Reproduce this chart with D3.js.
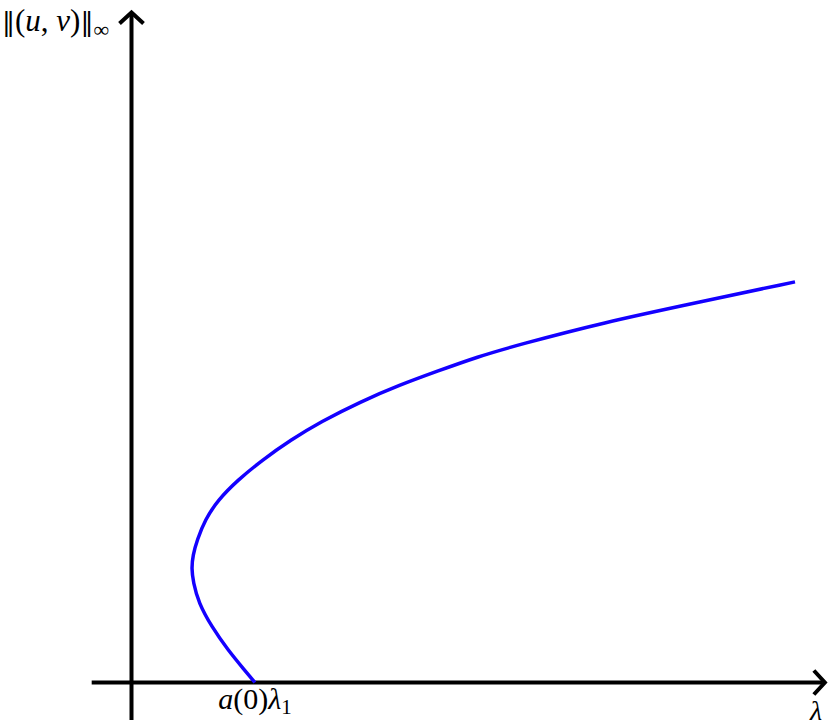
<!DOCTYPE html>
<html>
<head>
<meta charset="utf-8">
<script src="https://cdn.jsdelivr.net/npm/d3@7"></script>
<style>
    body { margin: 0; background: #fff; }
    text { font-family: "Liberation Serif", "DejaVu Serif", serif; }
</style>
</head>
<body>
<svg id="chart" width="833" height="726"></svg>
<script>
// bifurcation branch, in axis units (norm increases along the branch)
const normValues   = [0.00, 0.19, 0.49, 0.83, 1.19, 1.50, 1.70, 1.90, 2.13, 2.43, 2.72, 3.02, 3.32, 3.62, 3.89, 4.19, 4.44, 4.65, 4.86, 5.04, 5.37, 5.68, 5.98];
const lambdaValues = [1.86, 1.70, 1.45, 1.21, 1.01, 0.93, 0.905, 0.925, 0.99, 1.11, 1.30, 1.60, 1.97, 2.40, 2.85, 3.45, 4.04, 4.62, 5.21, 5.83, 7.10, 8.57, 10.0];
const xAxisExtent = [-0.6, 10.45];
const yAxisExtent = [-0.56, 10.0];
const bifurcationPoint = 1.86;

const svg = d3.select("#chart");

const x = d3.scaleLinear().domain([0, 10]).range([131.5, 795]);
const y = d3.scaleLinear().domain([0, 10]).range([682.5, 12.5]);

const axisColor = "#000";

// x axis with open arrow head
svg.append("line")
    .attr("x1", x(xAxisExtent[0])).attr("y1", y(0))
    .attr("x2", x(xAxisExtent[1]) - 2).attr("y2", y(0))
    .attr("stroke", axisColor).attr("stroke-width", 4);
svg.append("path")
    .attr("d", "M" + (x(xAxisExtent[1]) - 11) + "," + (y(0) - 12) +
        "L" + x(xAxisExtent[1]) + "," + y(0) +
        "L" + (x(xAxisExtent[1]) - 11) + "," + (y(0) + 12))
    .attr("fill", "none").attr("stroke", axisColor).attr("stroke-width", 4)
    .attr("stroke-linejoin", "miter");

// y axis with open arrow head
svg.append("line")
    .attr("x1", x(0)).attr("y1", y(yAxisExtent[0]))
    .attr("x2", x(0)).attr("y2", y(yAxisExtent[1]) + 2)
    .attr("stroke", axisColor).attr("stroke-width", 4);
svg.append("path")
    .attr("d", "M" + (x(0) - 12) + "," + (y(yAxisExtent[1]) + 11) +
        "L" + x(0) + "," + y(yAxisExtent[1]) +
        "L" + (x(0) + 12) + "," + (y(yAxisExtent[1]) + 11))
    .attr("fill", "none").attr("stroke", axisColor).attr("stroke-width", 4)
    .attr("stroke-linejoin", "miter");

// the branch
const pts = lambdaValues.map((l, i) => [l, normValues[i]]);
const line = d3.line()
    .x(d => x(d[0]))
    .y(d => y(d[1]))
    .curve(d3.curveBasis);

svg.append("path")
    .datum(pts)
    .attr("d", line)
    .attr("fill", "none")
    .attr("stroke", "rgb(20,0,255)")
    .attr("stroke-width", 3.5);

// labels
const yLabel = svg.append("text")
    .attr("x", 2).attr("y", 31)
    .attr("font-size", 31);
yLabel.append("tspan").attr("font-family", "DejaVu Serif").attr("font-size", 26).text("\u2016");
yLabel.append("tspan").text("(");
yLabel.append("tspan").attr("font-style", "italic").text("u");
yLabel.append("tspan").text(", ");
yLabel.append("tspan").attr("font-style", "italic").text("v");
yLabel.append("tspan").text(")");
yLabel.append("tspan").attr("font-family", "DejaVu Serif").attr("font-size", 26).text("\u2016");
yLabel.append("tspan").attr("font-size", 22).attr("dy", 6).text("\u221e");

const bLabel = svg.append("text")
    .attr("x", x(bifurcationPoint)).attr("y", 709)
    .attr("text-anchor", "middle")
    .attr("font-size", 30);
bLabel.append("tspan").attr("font-style", "italic").text("a");
bLabel.append("tspan").text("(0)");
bLabel.append("tspan").attr("font-style", "italic").text("\u03bb");
bLabel.append("tspan").attr("font-size", 21).attr("dy", 5).text("1");

svg.append("text")
    .attr("x", 816).attr("y", 720)
    .attr("text-anchor", "middle")
    .attr("font-size", 28)
    .attr("font-style", "italic")
    .text("\u03bb");
</script>
</body>
</html>
